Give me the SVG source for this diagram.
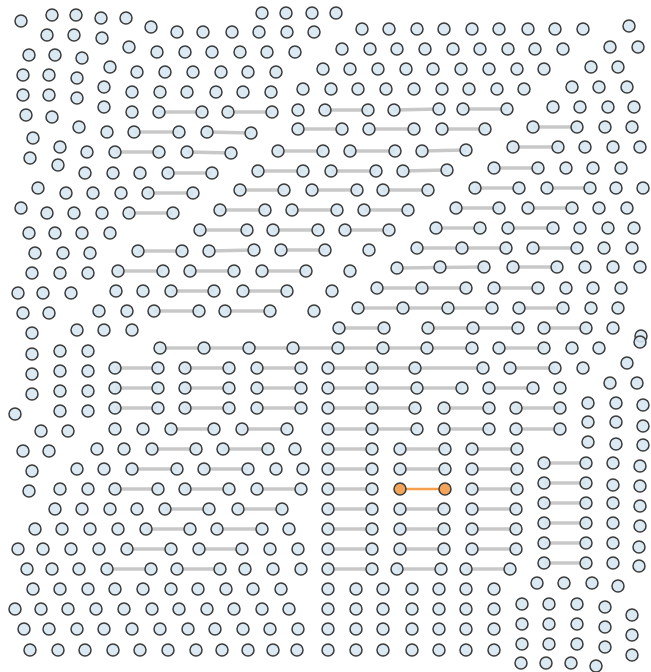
<svg xmlns="http://www.w3.org/2000/svg" width="651" height="672" viewBox="0 0 651 672">
<style>
circle{r:6px;fill:#d5e6f0;fill-opacity:.88;stroke:#3a3a3a;stroke-width:1.5}
.or circle{fill:#f5a55a;fill-opacity:1}
line{stroke:#c8c8c8;stroke-width:3.5}
line.o{stroke:#f5a04a;stroke-width:2.5}
</style>
<rect width="651" height="672" fill="#fff"/>
<g id="connectors">
<line x1="159" y1="112" x2="202" y2="112"/><line x1="228" y1="112" x2="272" y2="112"/><line x1="325" y1="110" x2="368" y2="110"/><line x1="394" y1="110" x2="439" y2="109"/><line x1="463" y1="109" x2="507" y2="109"/>
<line x1="134" y1="132" x2="179" y2="132"/><line x1="207" y1="132" x2="251" y2="133"/><line x1="298" y1="129" x2="342" y2="129"/><line x1="369" y1="129" x2="414" y2="129"/><line x1="442" y1="129" x2="485" y2="129"/><line x1="533" y1="127" x2="577" y2="127"/>
<line x1="115" y1="152" x2="159" y2="152"/><line x1="187" y1="152" x2="231" y2="153"/><line x1="278" y1="151" x2="323" y2="151"/><line x1="350" y1="151" x2="395" y2="151"/><line x1="422" y1="151" x2="466" y2="150"/><line x1="513" y1="147" x2="558" y2="147"/>
<line x1="168" y1="173" x2="212" y2="173"/><line x1="258" y1="171" x2="303" y2="171"/><line x1="331" y1="171" x2="376" y2="171"/><line x1="403" y1="171" x2="447" y2="170"/><line x1="494" y1="168" x2="538" y2="168"/>
<line x1="148" y1="193" x2="193" y2="193"/><line x1="240" y1="190" x2="284" y2="190"/><line x1="312" y1="190" x2="357" y2="190"/><line x1="383" y1="190" x2="428" y2="190"/><line x1="475" y1="188" x2="519" y2="188"/><line x1="547" y1="188" x2="590" y2="188"/>
<line x1="129" y1="213" x2="173" y2="213"/><line x1="220" y1="210" x2="265" y2="210"/><line x1="292" y1="210" x2="337" y2="210"/><line x1="364" y1="210" x2="408" y2="210"/><line x1="456" y1="208" x2="499" y2="208"/><line x1="528" y1="208" x2="572" y2="208"/>
<line x1="200" y1="230" x2="247" y2="230"/><line x1="273" y1="230" x2="318" y2="230"/><line x1="345" y1="230" x2="389" y2="230"/><line x1="436" y1="228" x2="480" y2="228"/><line x1="508" y1="228" x2="553" y2="228"/>
<line x1="138" y1="251" x2="182" y2="251"/><line x1="209" y1="251" x2="254" y2="250"/><line x1="281" y1="250" x2="325" y2="250"/><line x1="417" y1="248" x2="506" y2="248"/><line x1="533" y1="248" x2="577" y2="248"/>
<line x1="118" y1="271" x2="163" y2="271"/><line x1="190" y1="271" x2="234" y2="271"/><line x1="262" y1="271" x2="306" y2="271"/><line x1="397" y1="268" x2="484" y2="267"/><line x1="513" y1="267" x2="557" y2="267"/>
<line x1="171" y1="291" x2="214" y2="291"/><line x1="243" y1="291" x2="287" y2="291"/><line x1="377" y1="288" x2="466" y2="288"/><line x1="494" y1="288" x2="538" y2="288"/>
<line x1="154" y1="311" x2="199" y2="311"/><line x1="225" y1="311" x2="270" y2="311"/><line x1="358" y1="308" x2="492" y2="308"/><line x1="519" y1="308" x2="563" y2="308"/>
<line x1="339" y1="328" x2="384" y2="328"/><line x1="428" y1="328" x2="518" y2="328"/><line x1="544" y1="328" x2="586" y2="328"/>
<line x1="160" y1="348" x2="472" y2="348"/><line x1="499" y1="348" x2="544" y2="348"/>
<line x1="115" y1="368" x2="158" y2="368"/><line x1="185" y1="368" x2="229" y2="368"/><line x1="257" y1="368" x2="301" y2="368"/><line x1="328" y1="368" x2="483" y2="368"/><line x1="510" y1="368" x2="555" y2="368"/>
<line x1="115" y1="388" x2="158" y2="388"/><line x1="185" y1="388" x2="229" y2="388"/><line x1="257" y1="388" x2="301" y2="388"/><line x1="328" y1="388" x2="462" y2="388"/><line x1="489" y1="388" x2="533" y2="388"/>
<line x1="115" y1="408" x2="158" y2="408"/><line x1="185" y1="408" x2="229" y2="408"/><line x1="257" y1="408" x2="301" y2="408"/><line x1="328" y1="408" x2="415" y2="408"/><line x1="444" y1="408" x2="489" y2="408"/><line x1="516" y1="408" x2="560" y2="408"/>
<line x1="171" y1="429" x2="214" y2="429"/><line x1="242" y1="429" x2="287" y2="429"/><line x1="328" y1="429" x2="417" y2="429"/><line x1="444" y1="429" x2="489" y2="429"/><line x1="516" y1="429" x2="560" y2="429"/>
<line x1="152" y1="449" x2="196" y2="449"/><line x1="223" y1="449" x2="268" y2="449"/><line x1="328" y1="449" x2="372" y2="449"/><line x1="400" y1="449" x2="445" y2="449"/><line x1="472" y1="449" x2="517" y2="449"/>
<line x1="132" y1="469" x2="177" y2="469"/><line x1="204" y1="469" x2="248" y2="469"/><line x1="328" y1="469" x2="372" y2="469"/><line x1="400" y1="469" x2="445" y2="469"/><line x1="472" y1="469" x2="517" y2="469"/><line x1="544" y1="463" x2="586" y2="463"/>
<line x1="115" y1="489" x2="158" y2="489"/><line x1="185" y1="489" x2="229" y2="489"/><line x1="257" y1="489" x2="301" y2="489"/><line x1="328" y1="489" x2="372" y2="489"/><line class="o" x1="400" y1="489" x2="445" y2="489"/><line x1="472" y1="489" x2="517" y2="489"/><line x1="544" y1="483" x2="586" y2="483"/>
<line x1="165" y1="509" x2="209" y2="509"/><line x1="238" y1="509" x2="282" y2="509"/><line x1="328" y1="509" x2="372" y2="509"/><line x1="400" y1="509" x2="444" y2="509"/><line x1="472" y1="509" x2="516" y2="509"/><line x1="544" y1="503" x2="586" y2="503"/>
<line x1="146" y1="529" x2="190" y2="529"/><line x1="217" y1="529" x2="262" y2="529"/><line x1="328" y1="529" x2="372" y2="529"/><line x1="400" y1="529" x2="444" y2="529"/><line x1="472" y1="529" x2="516" y2="529"/><line x1="544" y1="523" x2="586" y2="523"/>
<line x1="127" y1="549" x2="171" y2="549"/><line x1="199" y1="549" x2="242" y2="549"/><line x1="328" y1="549" x2="372" y2="549"/><line x1="400" y1="549" x2="444" y2="549"/><line x1="472" y1="549" x2="516" y2="549"/><line x1="544" y1="543" x2="586" y2="543"/>
<line x1="107" y1="569" x2="151" y2="569"/><line x1="177" y1="569" x2="220" y2="569"/><line x1="328" y1="569" x2="372" y2="569"/><line x1="397" y1="569" x2="441" y2="569"/><line x1="466" y1="569" x2="510" y2="569"/><line x1="544" y1="563" x2="586" y2="563"/>
</g>
<g id="nodes">
<g id="n1"><circle cx="21" cy="21"/></g><g id="n2"><circle cx="52" cy="15"/></g><g id="n3"><circle cx="76" cy="15"/></g><g id="n4"><circle cx="101" cy="18"/></g><g id="n5"><circle cx="126" cy="18"/></g><g id="n6"><circle cx="151" cy="27"/></g><g id="n7"><circle cx="177" cy="32"/></g><g id="n8"><circle cx="203" cy="32"/></g><g id="n9"><circle cx="232" cy="32"/></g><g id="n10"><circle cx="259" cy="32"/></g><g id="n11"><circle cx="287" cy="32"/></g><g id="n12"><circle cx="314" cy="32"/></g><g id="n13"><circle cx="262" cy="13"/></g><g id="n14"><circle cx="286" cy="13"/></g><g id="n15"><circle cx="312" cy="13"/></g><g id="n16"><circle cx="336" cy="13"/></g><g id="n17"><circle cx="362" cy="29"/></g><g id="n18"><circle cx="389" cy="29"/></g><g id="n19"><circle cx="417" cy="29"/></g><g id="n20"><circle cx="444" cy="29"/></g><g id="n21"><circle cx="472" cy="29"/></g><g id="n22"><circle cx="499" cy="29"/></g><g id="n23"><circle cx="528" cy="29"/></g><g id="n24"><circle cx="555" cy="29"/></g><g id="n25"><circle cx="583" cy="29"/></g><g id="n26"><circle cx="629" cy="26"/></g>
<g id="n27"><circle cx="47" cy="35"/></g><g id="n28"><circle cx="74" cy="35"/></g><g id="n29"><circle cx="102" cy="38"/></g><g id="n30"><circle cx="129" cy="47"/></g><g id="n31"><circle cx="157" cy="52"/></g><g id="n32"><circle cx="185" cy="52"/></g><g id="n33"><circle cx="212" cy="52"/></g><g id="n34"><circle cx="240" cy="52"/></g><g id="n35"><circle cx="267" cy="52"/></g><g id="n36"><circle cx="295" cy="52"/></g><g id="n37"><circle cx="342" cy="49"/></g><g id="n38"><circle cx="370" cy="49"/></g><g id="n39"><circle cx="397" cy="49"/></g><g id="n40"><circle cx="425" cy="49"/></g><g id="n41"><circle cx="453" cy="49"/></g><g id="n42"><circle cx="480" cy="49"/></g><g id="n43"><circle cx="508" cy="49"/></g><g id="n44"><circle cx="535" cy="49"/></g><g id="n45"><circle cx="563" cy="49"/></g><g id="n46"><circle cx="610" cy="47"/></g><g id="n47"><circle cx="638" cy="47"/></g><g id="n48"><circle cx="29" cy="55"/></g><g id="n49"><circle cx="55" cy="55"/></g><g id="n50"><circle cx="82" cy="58"/></g>
<g id="n51"><circle cx="110" cy="67"/></g><g id="n52"><circle cx="137" cy="72"/></g><g id="n53"><circle cx="165" cy="72"/></g><g id="n54"><circle cx="193" cy="72"/></g><g id="n55"><circle cx="221" cy="72"/></g><g id="n56"><circle cx="248" cy="72"/></g><g id="n57"><circle cx="276" cy="72"/></g><g id="n58"><circle cx="323" cy="69"/></g><g id="n59"><circle cx="350" cy="69"/></g><g id="n60"><circle cx="378" cy="69"/></g><g id="n61"><circle cx="406" cy="69"/></g><g id="n62"><circle cx="433" cy="69"/></g><g id="n63"><circle cx="461" cy="69"/></g><g id="n64"><circle cx="489" cy="69"/></g><g id="n65"><circle cx="517" cy="69"/></g><g id="n66"><circle cx="544" cy="69"/></g><g id="n67"><circle cx="591" cy="67"/></g><g id="n68"><circle cx="618" cy="67"/></g><g id="n69"><circle cx="23" cy="75"/></g><g id="n70"><circle cx="49" cy="75"/></g><g id="n71"><circle cx="77" cy="78"/></g>
<g id="n72"><circle cx="104" cy="87"/></g><g id="n73"><circle cx="132" cy="92"/></g><g id="n74"><circle cx="160" cy="92"/></g><g id="n75"><circle cx="187" cy="92"/></g><g id="n76"><circle cx="216" cy="92"/></g><g id="n77"><circle cx="243" cy="92"/></g><g id="n78"><circle cx="271" cy="92"/></g><g id="n79"><circle cx="303" cy="89"/></g><g id="n80"><circle cx="331" cy="89"/></g><g id="n81"><circle cx="358" cy="89"/></g><g id="n82"><circle cx="386" cy="89"/></g><g id="n83"><circle cx="414" cy="89"/></g><g id="n84"><circle cx="442" cy="89"/></g><g id="n85"><circle cx="469" cy="89"/></g><g id="n86"><circle cx="497" cy="89"/></g><g id="n87"><circle cx="524" cy="89"/></g><g id="n88"><circle cx="572" cy="87"/></g><g id="n89"><circle cx="599" cy="87"/></g><g id="n90"><circle cx="627" cy="87"/></g><g id="n91"><circle cx="23" cy="95"/></g><g id="n92"><circle cx="49" cy="95"/></g><g id="n93"><circle cx="77" cy="98"/></g>
<g id="n94"><circle cx="104" cy="107"/></g><g id="n95"><circle cx="132" cy="112"/></g><g id="n96"><circle cx="159" cy="112"/></g><g id="n97"><circle cx="202" cy="112"/></g><g id="n98"><circle cx="228" cy="112"/></g><g id="n99"><circle cx="272" cy="112"/></g><g id="n100"><circle cx="298" cy="110"/></g><g id="n101"><circle cx="325" cy="110"/></g><g id="n102"><circle cx="368" cy="110"/></g><g id="n103"><circle cx="394" cy="110"/></g><g id="n104"><circle cx="439" cy="109"/></g><g id="n105"><circle cx="463" cy="109"/></g><g id="n106"><circle cx="507" cy="109"/></g><g id="n107"><circle cx="553" cy="107"/></g><g id="n108"><circle cx="580" cy="107"/></g><g id="n109"><circle cx="608" cy="107"/></g><g id="n110"><circle cx="634" cy="107"/></g><g id="n111"><circle cx="26" cy="115"/></g><g id="n112"><circle cx="52" cy="117"/></g>
<g id="n113"><circle cx="79" cy="127"/></g><g id="n114"><circle cx="107" cy="132"/></g><g id="n115"><circle cx="134" cy="132"/></g><g id="n116"><circle cx="179" cy="132"/></g><g id="n117"><circle cx="207" cy="132"/></g><g id="n118"><circle cx="251" cy="133"/></g><g id="n119"><circle cx="298" cy="129"/></g><g id="n120"><circle cx="342" cy="129"/></g><g id="n121"><circle cx="369" cy="129"/></g><g id="n122"><circle cx="414" cy="129"/></g><g id="n123"><circle cx="442" cy="129"/></g><g id="n124"><circle cx="485" cy="129"/></g><g id="n125"><circle cx="533" cy="127"/></g><g id="n126"><circle cx="577" cy="127"/></g><g id="n127"><circle cx="605" cy="127"/></g><g id="n128"><circle cx="632" cy="127"/></g><g id="n129"><circle cx="33" cy="138"/></g>
<g id="n130"><circle cx="60" cy="147"/></g><g id="n131"><circle cx="87" cy="152"/></g><g id="n132"><circle cx="115" cy="152"/></g><g id="n133"><circle cx="159" cy="152"/></g><g id="n134"><circle cx="187" cy="152"/></g><g id="n135"><circle cx="231" cy="153"/></g><g id="n136"><circle cx="278" cy="151"/></g><g id="n137"><circle cx="323" cy="151"/></g><g id="n138"><circle cx="350" cy="151"/></g><g id="n139"><circle cx="395" cy="151"/></g><g id="n140"><circle cx="422" cy="151"/></g><g id="n141"><circle cx="466" cy="150"/></g><g id="n142"><circle cx="513" cy="147"/></g><g id="n143"><circle cx="558" cy="147"/></g><g id="n144"><circle cx="585" cy="147"/></g><g id="n145"><circle cx="613" cy="147"/></g><g id="n146"><circle cx="640" cy="147"/></g><g id="n147"><circle cx="30" cy="158"/></g>
<g id="n148"><circle cx="58" cy="165"/></g><g id="n149"><circle cx="85" cy="173"/></g><g id="n150"><circle cx="113" cy="173"/></g><g id="n151"><circle cx="140" cy="173"/></g><g id="n152"><circle cx="168" cy="173"/></g><g id="n153"><circle cx="212" cy="173"/></g><g id="n154"><circle cx="258" cy="171"/></g><g id="n155"><circle cx="303" cy="171"/></g><g id="n156"><circle cx="331" cy="171"/></g><g id="n157"><circle cx="376" cy="171"/></g><g id="n158"><circle cx="403" cy="171"/></g><g id="n159"><circle cx="447" cy="170"/></g><g id="n160"><circle cx="494" cy="168"/></g><g id="n161"><circle cx="538" cy="168"/></g><g id="n162"><circle cx="566" cy="168"/></g><g id="n163"><circle cx="593" cy="168"/></g><g id="n164"><circle cx="621" cy="168"/></g>
<g id="n165"><circle cx="38" cy="188"/></g><g id="n166"><circle cx="66" cy="193"/></g><g id="n167"><circle cx="93" cy="193"/></g><g id="n168"><circle cx="121" cy="193"/></g><g id="n169"><circle cx="148" cy="193"/></g><g id="n170"><circle cx="193" cy="193"/></g><g id="n171"><circle cx="240" cy="190"/></g><g id="n172"><circle cx="284" cy="190"/></g><g id="n173"><circle cx="312" cy="190"/></g><g id="n174"><circle cx="357" cy="190"/></g><g id="n175"><circle cx="383" cy="190"/></g><g id="n176"><circle cx="428" cy="190"/></g><g id="n177"><circle cx="475" cy="188"/></g><g id="n178"><circle cx="519" cy="188"/></g><g id="n179"><circle cx="547" cy="188"/></g><g id="n180"><circle cx="590" cy="188"/></g><g id="n181"><circle cx="616" cy="188"/></g><g id="n182"><circle cx="643" cy="188"/></g>
<g id="n183"><circle cx="21" cy="208"/></g><g id="n184"><circle cx="47" cy="213"/></g><g id="n185"><circle cx="74" cy="213"/></g><g id="n186"><circle cx="102" cy="213"/></g><g id="n187"><circle cx="129" cy="213"/></g><g id="n188"><circle cx="173" cy="213"/></g><g id="n189"><circle cx="220" cy="210"/></g><g id="n190"><circle cx="265" cy="210"/></g><g id="n191"><circle cx="292" cy="210"/></g><g id="n192"><circle cx="337" cy="210"/></g><g id="n193"><circle cx="364" cy="210"/></g><g id="n194"><circle cx="408" cy="210"/></g><g id="n195"><circle cx="456" cy="208"/></g><g id="n196"><circle cx="499" cy="208"/></g><g id="n197"><circle cx="528" cy="208"/></g><g id="n198"><circle cx="572" cy="208"/></g><g id="n199"><circle cx="599" cy="208"/></g><g id="n200"><circle cx="627" cy="208"/></g>
<g id="n201"><circle cx="29" cy="233"/></g><g id="n202"><circle cx="55" cy="233"/></g><g id="n203"><circle cx="82" cy="233"/></g><g id="n204"><circle cx="110" cy="233"/></g><g id="n205"><circle cx="200" cy="230"/></g><g id="n206"><circle cx="247" cy="230"/></g><g id="n207"><circle cx="273" cy="230"/></g><g id="n208"><circle cx="318" cy="230"/></g><g id="n209"><circle cx="345" cy="230"/></g><g id="n210"><circle cx="389" cy="230"/></g><g id="n211"><circle cx="436" cy="228"/></g><g id="n212"><circle cx="480" cy="228"/></g><g id="n213"><circle cx="508" cy="228"/></g><g id="n214"><circle cx="553" cy="228"/></g><g id="n215"><circle cx="580" cy="228"/></g><g id="n216"><circle cx="608" cy="228"/></g><g id="n217"><circle cx="634" cy="228"/></g>
<g id="n218"><circle cx="35" cy="253"/></g><g id="n219"><circle cx="63" cy="253"/></g><g id="n220"><circle cx="90" cy="253"/></g><g id="n221"><circle cx="138" cy="251"/></g><g id="n222"><circle cx="182" cy="251"/></g><g id="n223"><circle cx="209" cy="251"/></g><g id="n224"><circle cx="254" cy="250"/></g><g id="n225"><circle cx="281" cy="250"/></g><g id="n226"><circle cx="325" cy="250"/></g><g id="n227"><circle cx="369" cy="250"/></g><g id="n228"><circle cx="417" cy="248"/></g><g id="n229"><circle cx="462" cy="248"/></g><g id="n230"><circle cx="506" cy="248"/></g><g id="n231"><circle cx="533" cy="248"/></g><g id="n232"><circle cx="577" cy="248"/></g><g id="n233"><circle cx="604" cy="248"/></g><g id="n234"><circle cx="632" cy="248"/></g>
<g id="n235"><circle cx="32" cy="273"/></g><g id="n236"><circle cx="60" cy="273"/></g><g id="n237"><circle cx="88" cy="273"/></g><g id="n238"><circle cx="118" cy="271"/></g><g id="n239"><circle cx="163" cy="271"/></g><g id="n240"><circle cx="190" cy="271"/></g><g id="n241"><circle cx="234" cy="271"/></g><g id="n242"><circle cx="262" cy="271"/></g><g id="n243"><circle cx="306" cy="271"/></g><g id="n244"><circle cx="350" cy="271"/></g><g id="n245"><circle cx="397" cy="268"/></g><g id="n246"><circle cx="440" cy="267"/></g><g id="n247"><circle cx="484" cy="267"/></g><g id="n248"><circle cx="513" cy="267"/></g><g id="n249"><circle cx="557" cy="267"/></g><g id="n250"><circle cx="585" cy="267"/></g><g id="n251"><circle cx="613" cy="267"/></g><g id="n252"><circle cx="640" cy="267"/></g>
<g id="n253"><circle cx="18" cy="293"/></g><g id="n254"><circle cx="43" cy="293"/></g><g id="n255"><circle cx="71" cy="293"/></g><g id="n256"><circle cx="116" cy="291"/></g><g id="n257"><circle cx="143" cy="291"/></g><g id="n258"><circle cx="171" cy="291"/></g><g id="n259"><circle cx="214" cy="291"/></g><g id="n260"><circle cx="243" cy="291"/></g><g id="n261"><circle cx="287" cy="291"/></g><g id="n262"><circle cx="332" cy="291"/></g><g id="n263"><circle cx="377" cy="288"/></g><g id="n264"><circle cx="422" cy="288"/></g><g id="n265"><circle cx="466" cy="288"/></g><g id="n266"><circle cx="494" cy="288"/></g><g id="n267"><circle cx="538" cy="288"/></g><g id="n268"><circle cx="566" cy="288"/></g><g id="n269"><circle cx="593" cy="288"/></g><g id="n270"><circle cx="621" cy="288"/></g>
<g id="n271"><circle cx="23" cy="313"/></g><g id="n272"><circle cx="49" cy="313"/></g><g id="n273"><circle cx="99" cy="311"/></g><g id="n274"><circle cx="127" cy="311"/></g><g id="n275"><circle cx="154" cy="311"/></g><g id="n276"><circle cx="199" cy="311"/></g><g id="n277"><circle cx="225" cy="311"/></g><g id="n278"><circle cx="270" cy="311"/></g><g id="n279"><circle cx="314" cy="311"/></g><g id="n280"><circle cx="358" cy="308"/></g><g id="n281"><circle cx="403" cy="308"/></g><g id="n282"><circle cx="448" cy="308"/></g><g id="n283"><circle cx="492" cy="308"/></g><g id="n284"><circle cx="519" cy="308"/></g><g id="n285"><circle cx="563" cy="308"/></g><g id="n286"><circle cx="591" cy="308"/></g><g id="n287"><circle cx="618" cy="308"/></g>
<g id="n288"><circle cx="32" cy="333"/></g><g id="n289"><circle cx="77" cy="330"/></g><g id="n290"><circle cx="104" cy="330"/></g><g id="n291"><circle cx="132" cy="330"/></g><g id="n292"><circle cx="339" cy="328"/></g><g id="n293"><circle cx="384" cy="328"/></g><g id="n294"><circle cx="428" cy="328"/></g><g id="n295"><circle cx="473" cy="328"/></g><g id="n296"><circle cx="518" cy="328"/></g><g id="n297"><circle cx="544" cy="328"/></g><g id="n298"><circle cx="586" cy="328"/></g><g id="n299"><circle cx="613" cy="328"/></g><g id="n300"><circle cx="641" cy="336"/></g>
<g id="n301"><circle cx="32" cy="354"/></g><g id="n302"><circle cx="60" cy="351"/></g><g id="n303"><circle cx="88" cy="351"/></g><g id="n304"><circle cx="160" cy="348"/></g><g id="n305"><circle cx="204" cy="348"/></g><g id="n306"><circle cx="249" cy="348"/></g><g id="n307"><circle cx="293" cy="348"/></g><g id="n308"><circle cx="338" cy="348"/></g><g id="n309"><circle cx="383" cy="348"/></g><g id="n310"><circle cx="427" cy="348"/></g><g id="n311"><circle cx="472" cy="348"/></g><g id="n312"><circle cx="499" cy="348"/></g><g id="n313"><circle cx="544" cy="348"/></g><g id="n314"><circle cx="572" cy="348"/></g><g id="n315"><circle cx="599" cy="348"/></g><g id="n316"><circle cx="640" cy="342"/></g>
<g id="n317"><circle cx="32" cy="374"/></g><g id="n318"><circle cx="60" cy="371"/></g><g id="n319"><circle cx="88" cy="371"/></g><g id="n320"><circle cx="115" cy="368"/></g><g id="n321"><circle cx="158" cy="368"/></g><g id="n322"><circle cx="185" cy="368"/></g><g id="n323"><circle cx="229" cy="368"/></g><g id="n324"><circle cx="257" cy="368"/></g><g id="n325"><circle cx="301" cy="368"/></g><g id="n326"><circle cx="328" cy="368"/></g><g id="n327"><circle cx="372" cy="368"/></g><g id="n328"><circle cx="415" cy="368"/></g><g id="n329"><circle cx="483" cy="368"/></g><g id="n330"><circle cx="510" cy="368"/></g><g id="n331"><circle cx="555" cy="368"/></g><g id="n332"><circle cx="583" cy="368"/></g><g id="n333"><circle cx="627" cy="363"/></g>
<g id="n334"><circle cx="32" cy="394"/></g><g id="n335"><circle cx="60" cy="391"/></g><g id="n336"><circle cx="88" cy="391"/></g><g id="n337"><circle cx="115" cy="388"/></g><g id="n338"><circle cx="158" cy="388"/></g><g id="n339"><circle cx="185" cy="388"/></g><g id="n340"><circle cx="229" cy="388"/></g><g id="n341"><circle cx="257" cy="388"/></g><g id="n342"><circle cx="301" cy="388"/></g><g id="n343"><circle cx="328" cy="388"/></g><g id="n344"><circle cx="372" cy="388"/></g><g id="n345"><circle cx="417" cy="388"/></g><g id="n346"><circle cx="462" cy="388"/></g><g id="n347"><circle cx="489" cy="388"/></g><g id="n348"><circle cx="533" cy="388"/></g><g id="n349"><circle cx="560" cy="388"/></g><g id="n350"><circle cx="610" cy="383"/></g><g id="n351"><circle cx="637" cy="383"/></g>
<g id="n352"><circle cx="15" cy="414"/></g><g id="n353"><circle cx="60" cy="411"/></g><g id="n354"><circle cx="88" cy="411"/></g><g id="n355"><circle cx="115" cy="408"/></g><g id="n356"><circle cx="158" cy="408"/></g><g id="n357"><circle cx="185" cy="408"/></g><g id="n358"><circle cx="229" cy="408"/></g><g id="n359"><circle cx="257" cy="408"/></g><g id="n360"><circle cx="301" cy="408"/></g><g id="n361"><circle cx="328" cy="408"/></g><g id="n362"><circle cx="372" cy="408"/></g><g id="n363"><circle cx="415" cy="408"/></g><g id="n364"><circle cx="444" cy="408"/></g><g id="n365"><circle cx="489" cy="408"/></g><g id="n366"><circle cx="516" cy="408"/></g><g id="n367"><circle cx="560" cy="408"/></g><g id="n368"><circle cx="588" cy="403"/></g><g id="n369"><circle cx="616" cy="403"/></g><g id="n370"><circle cx="643" cy="405"/></g>
<g id="n371"><circle cx="41" cy="431"/></g><g id="n372"><circle cx="68" cy="431"/></g><g id="n373"><circle cx="115" cy="429"/></g><g id="n374"><circle cx="143" cy="429"/></g><g id="n375"><circle cx="171" cy="429"/></g><g id="n376"><circle cx="214" cy="429"/></g><g id="n377"><circle cx="242" cy="429"/></g><g id="n378"><circle cx="287" cy="429"/></g><g id="n379"><circle cx="328" cy="429"/></g><g id="n380"><circle cx="372" cy="429"/></g><g id="n381"><circle cx="417" cy="429"/></g><g id="n382"><circle cx="444" cy="429"/></g><g id="n383"><circle cx="489" cy="429"/></g><g id="n384"><circle cx="516" cy="429"/></g><g id="n385"><circle cx="560" cy="429"/></g><g id="n386"><circle cx="588" cy="422"/></g><g id="n387"><circle cx="616" cy="422"/></g><g id="n388"><circle cx="643" cy="426"/></g>
<g id="n389"><circle cx="23" cy="451"/></g><g id="n390"><circle cx="49" cy="451"/></g><g id="n391"><circle cx="97" cy="449"/></g><g id="n392"><circle cx="124" cy="449"/></g><g id="n393"><circle cx="152" cy="449"/></g><g id="n394"><circle cx="196" cy="449"/></g><g id="n395"><circle cx="223" cy="449"/></g><g id="n396"><circle cx="268" cy="449"/></g><g id="n397"><circle cx="295" cy="449"/></g><g id="n398"><circle cx="328" cy="449"/></g><g id="n399"><circle cx="372" cy="449"/></g><g id="n400"><circle cx="400" cy="449"/></g><g id="n401"><circle cx="445" cy="449"/></g><g id="n402"><circle cx="472" cy="449"/></g><g id="n403"><circle cx="517" cy="449"/></g><g id="n404"><circle cx="588" cy="442"/></g><g id="n405"><circle cx="616" cy="444"/></g><g id="n406"><circle cx="643" cy="445"/></g>
<g id="n407"><circle cx="32" cy="471"/></g><g id="n408"><circle cx="77" cy="469"/></g><g id="n409"><circle cx="104" cy="469"/></g><g id="n410"><circle cx="132" cy="469"/></g><g id="n411"><circle cx="177" cy="469"/></g><g id="n412"><circle cx="204" cy="469"/></g><g id="n413"><circle cx="248" cy="469"/></g><g id="n414"><circle cx="276" cy="469"/></g><g id="n415"><circle cx="303" cy="469"/></g><g id="n416"><circle cx="328" cy="469"/></g><g id="n417"><circle cx="372" cy="469"/></g><g id="n418"><circle cx="400" cy="469"/></g><g id="n419"><circle cx="445" cy="469"/></g><g id="n420"><circle cx="472" cy="469"/></g><g id="n421"><circle cx="517" cy="469"/></g><g id="n422"><circle cx="544" cy="463"/></g><g id="n423"><circle cx="586" cy="463"/></g><g id="n424"><circle cx="613" cy="463"/></g><g id="n425"><circle cx="640" cy="466"/></g>
<g id="n426"><circle cx="29" cy="491"/></g><g id="n427"><circle cx="60" cy="489"/></g><g id="n428"><circle cx="88" cy="489"/></g><g id="n429"><circle cx="115" cy="489"/></g><g id="n430"><circle cx="158" cy="489"/></g><g id="n431"><circle cx="185" cy="489"/></g><g id="n432"><circle cx="229" cy="489"/></g><g id="n433"><circle cx="257" cy="489"/></g><g id="n434"><circle cx="301" cy="489"/></g><g id="n435"><circle cx="328" cy="489"/></g><g id="n436"><circle cx="372" cy="489"/></g><g id="n437" class="or"><circle cx="400" cy="489"/></g><g id="n438" class="or"><circle cx="445" cy="489"/></g><g id="n439"><circle cx="472" cy="489"/></g><g id="n440"><circle cx="517" cy="489"/></g><g id="n441"><circle cx="544" cy="483"/></g><g id="n442"><circle cx="586" cy="483"/></g><g id="n443"><circle cx="613" cy="485"/></g><g id="n444"><circle cx="640" cy="486"/></g>
<g id="n445"><circle cx="55" cy="509"/></g><g id="n446"><circle cx="82" cy="509"/></g><g id="n447"><circle cx="110" cy="509"/></g><g id="n448"><circle cx="137" cy="509"/></g><g id="n449"><circle cx="165" cy="509"/></g><g id="n450"><circle cx="209" cy="509"/></g><g id="n451"><circle cx="238" cy="509"/></g><g id="n452"><circle cx="282" cy="509"/></g><g id="n453"><circle cx="328" cy="509"/></g><g id="n454"><circle cx="372" cy="509"/></g><g id="n455"><circle cx="400" cy="509"/></g><g id="n456"><circle cx="444" cy="509"/></g><g id="n457"><circle cx="472" cy="509"/></g><g id="n458"><circle cx="516" cy="509"/></g><g id="n459"><circle cx="544" cy="503"/></g><g id="n460"><circle cx="586" cy="503"/></g><g id="n461"><circle cx="613" cy="503"/></g><g id="n462"><circle cx="640" cy="506"/></g>
<g id="n463"><circle cx="35" cy="529"/></g><g id="n464"><circle cx="62" cy="529"/></g><g id="n465"><circle cx="90" cy="529"/></g><g id="n466"><circle cx="118" cy="529"/></g><g id="n467"><circle cx="146" cy="529"/></g><g id="n468"><circle cx="190" cy="529"/></g><g id="n469"><circle cx="217" cy="529"/></g><g id="n470"><circle cx="262" cy="529"/></g><g id="n471"><circle cx="289" cy="529"/></g><g id="n472"><circle cx="328" cy="529"/></g><g id="n473"><circle cx="372" cy="529"/></g><g id="n474"><circle cx="400" cy="529"/></g><g id="n475"><circle cx="444" cy="529"/></g><g id="n476"><circle cx="472" cy="529"/></g><g id="n477"><circle cx="516" cy="529"/></g><g id="n478"><circle cx="544" cy="523"/></g><g id="n479"><circle cx="586" cy="523"/></g><g id="n480"><circle cx="613" cy="523"/></g><g id="n481"><circle cx="640" cy="526"/></g>
<g id="n482"><circle cx="18" cy="549"/></g><g id="n483"><circle cx="43" cy="549"/></g><g id="n484"><circle cx="71" cy="549"/></g><g id="n485"><circle cx="99" cy="549"/></g><g id="n486"><circle cx="127" cy="549"/></g><g id="n487"><circle cx="171" cy="549"/></g><g id="n488"><circle cx="199" cy="549"/></g><g id="n489"><circle cx="242" cy="549"/></g><g id="n490"><circle cx="270" cy="549"/></g><g id="n491"><circle cx="298" cy="549"/></g><g id="n492"><circle cx="328" cy="549"/></g><g id="n493"><circle cx="372" cy="549"/></g><g id="n494"><circle cx="400" cy="549"/></g><g id="n495"><circle cx="444" cy="549"/></g><g id="n496"><circle cx="472" cy="549"/></g><g id="n497"><circle cx="516" cy="549"/></g><g id="n498"><circle cx="544" cy="543"/></g><g id="n499"><circle cx="586" cy="543"/></g><g id="n500"><circle cx="613" cy="543"/></g><g id="n501"><circle cx="639" cy="547"/></g>
<g id="n502"><circle cx="27" cy="569"/></g><g id="n503"><circle cx="52" cy="569"/></g><g id="n504"><circle cx="79" cy="569"/></g><g id="n505"><circle cx="107" cy="569"/></g><g id="n506"><circle cx="151" cy="569"/></g><g id="n507"><circle cx="177" cy="569"/></g><g id="n508"><circle cx="220" cy="569"/></g><g id="n509"><circle cx="245" cy="569"/></g><g id="n510"><circle cx="273" cy="569"/></g><g id="n511"><circle cx="301" cy="569"/></g><g id="n512"><circle cx="328" cy="569"/></g><g id="n513"><circle cx="372" cy="569"/></g><g id="n514"><circle cx="397" cy="569"/></g><g id="n515"><circle cx="441" cy="569"/></g><g id="n516"><circle cx="466" cy="569"/></g><g id="n517"><circle cx="510" cy="569"/></g><g id="n518"><circle cx="544" cy="563"/></g><g id="n519"><circle cx="586" cy="563"/></g><g id="n520"><circle cx="613" cy="563"/></g><g id="n521"><circle cx="639" cy="566"/></g>
<g id="n522"><circle cx="33" cy="589"/></g><g id="n523"><circle cx="60" cy="589"/></g><g id="n524"><circle cx="88" cy="589"/></g><g id="n525"><circle cx="115" cy="589"/></g><g id="n526"><circle cx="143" cy="589"/></g><g id="n527"><circle cx="171" cy="589"/></g><g id="n528"><circle cx="198" cy="589"/></g><g id="n529"><circle cx="226" cy="589"/></g><g id="n530"><circle cx="253" cy="589"/></g><g id="n531"><circle cx="281" cy="589"/></g><g id="n532"><circle cx="328" cy="589"/></g><g id="n533"><circle cx="356" cy="589"/></g><g id="n534"><circle cx="383" cy="589"/></g><g id="n535"><circle cx="412" cy="589"/></g><g id="n536"><circle cx="439" cy="589"/></g><g id="n537"><circle cx="466" cy="589"/></g><g id="n538"><circle cx="494" cy="589"/></g><g id="n539"><circle cx="537" cy="583"/></g><g id="n540"><circle cx="564" cy="583"/></g><g id="n541"><circle cx="592" cy="583"/></g><g id="n542"><circle cx="618" cy="586"/></g>
<g id="n543"><circle cx="15" cy="609"/></g><g id="n544"><circle cx="41" cy="609"/></g><g id="n545"><circle cx="68" cy="609"/></g><g id="n546"><circle cx="96" cy="609"/></g><g id="n547"><circle cx="124" cy="609"/></g><g id="n548"><circle cx="152" cy="609"/></g><g id="n549"><circle cx="179" cy="609"/></g><g id="n550"><circle cx="207" cy="609"/></g><g id="n551"><circle cx="234" cy="609"/></g><g id="n552"><circle cx="262" cy="609"/></g><g id="n553"><circle cx="289" cy="609"/></g><g id="n554"><circle cx="328" cy="609"/></g><g id="n555"><circle cx="356" cy="609"/></g><g id="n556"><circle cx="383" cy="609"/></g><g id="n557"><circle cx="412" cy="609"/></g><g id="n558"><circle cx="439" cy="609"/></g><g id="n559"><circle cx="466" cy="609"/></g><g id="n560"><circle cx="494" cy="609"/></g><g id="n561"><circle cx="522" cy="604"/></g><g id="n562"><circle cx="549" cy="604"/></g><g id="n563"><circle cx="577" cy="604"/></g><g id="n564"><circle cx="605" cy="607"/></g><g id="n565"><circle cx="632" cy="615"/></g>
<g id="n566"><circle cx="24" cy="629"/></g><g id="n567"><circle cx="49" cy="629"/></g><g id="n568"><circle cx="77" cy="629"/></g><g id="n569"><circle cx="104" cy="629"/></g><g id="n570"><circle cx="132" cy="629"/></g><g id="n571"><circle cx="160" cy="629"/></g><g id="n572"><circle cx="188" cy="629"/></g><g id="n573"><circle cx="215" cy="629"/></g><g id="n574"><circle cx="243" cy="629"/></g><g id="n575"><circle cx="270" cy="629"/></g><g id="n576"><circle cx="298" cy="629"/></g><g id="n577"><circle cx="328" cy="629"/></g><g id="n578"><circle cx="356" cy="629"/></g><g id="n579"><circle cx="383" cy="629"/></g><g id="n580"><circle cx="412" cy="629"/></g><g id="n581"><circle cx="439" cy="629"/></g><g id="n582"><circle cx="466" cy="629"/></g><g id="n583"><circle cx="494" cy="629"/></g><g id="n584"><circle cx="522" cy="624"/></g><g id="n585"><circle cx="549" cy="624"/></g><g id="n586"><circle cx="577" cy="624"/></g><g id="n587"><circle cx="605" cy="627"/></g><g id="n588"><circle cx="632" cy="635"/></g>
<g id="n589"><circle cx="30" cy="650"/></g><g id="n590"><circle cx="58" cy="650"/></g><g id="n591"><circle cx="85" cy="650"/></g><g id="n592"><circle cx="113" cy="650"/></g><g id="n593"><circle cx="140" cy="650"/></g><g id="n594"><circle cx="168" cy="650"/></g><g id="n595"><circle cx="196" cy="650"/></g><g id="n596"><circle cx="222" cy="650"/></g><g id="n597"><circle cx="248" cy="650"/></g><g id="n598"><circle cx="273" cy="650"/></g><g id="n599"><circle cx="297" cy="650"/></g><g id="n600"><circle cx="328" cy="650"/></g><g id="n601"><circle cx="356" cy="650"/></g><g id="n602"><circle cx="383" cy="650"/></g><g id="n603"><circle cx="412" cy="650"/></g><g id="n604"><circle cx="439" cy="650"/></g><g id="n605"><circle cx="466" cy="650"/></g><g id="n606"><circle cx="494" cy="650"/></g><g id="n607"><circle cx="522" cy="644"/></g><g id="n608"><circle cx="549" cy="644"/></g><g id="n609"><circle cx="577" cy="644"/></g><g id="n610"><circle cx="605" cy="647"/></g><g id="n611"><circle cx="632" cy="655"/></g>
<g id="n612"><circle cx="521" cy="663"/></g><g id="n613"><circle cx="546" cy="663"/></g><g id="n614"><circle cx="571" cy="663"/></g><g id="n615"><circle cx="596" cy="666"/></g>
</g>
</svg>
